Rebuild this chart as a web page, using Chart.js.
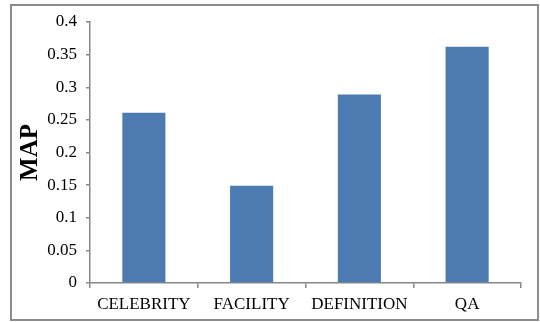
<!DOCTYPE html>
<html>
<head>
<meta charset="utf-8">
<script src="https://cdn.jsdelivr.net/npm/chart.js@4/dist/chart.umd.min.js"></script>
<style>
  html, body { margin: 0; padding: 0; background: #fff; }
  #wrap { width: 540px; height: 322px; }
</style>
</head>
<body>
<div id="wrap"><canvas id="grafica" width="540" height="322"></canvas></div>
<script>
// datos
const categorias = ['CELEBRITY', 'FACILITY', 'DEFINITION', 'QA'];
const valoresMAP = [0.261, 0.149, 0.289, 0.362];
const etiquetasY = ['0', '0.05', '0.1', '0.15', '0.2', '0.25', '0.3', '0.35', '0.4'];

const GRIS = '#878787';
const FUENTE = "'Liberation Serif', 'Times New Roman', serif";

/********** marco exterior *******************/
const marco = {
  id: 'marco',
  beforeDraw(chart) {
    const c = chart.ctx;
    c.save();
    c.fillStyle = '#fff';
    c.fillRect(0, 0, chart.width, chart.height);
    c.strokeStyle = '#8c8c8c';
    c.lineWidth = 2;
    c.strokeRect(11, 5, 527, 315);
    c.restore();
  }
};

new Chart(document.getElementById('grafica'), {
  type: 'bar',
  data: {
    labels: categorias,
    datasets: [{
      label: 'MAP',
      data: valoresMAP,
      backgroundColor: '#4c7bb2',
      borderWidth: 0,
      barPercentage: 0.4,
      categoryPercentage: 1
    }]
  },
  options: {
    responsive: false,
    animation: false,
    layout: { padding: { left: 12, top: 22, right: 19, bottom: 0 } },
    plugins: { legend: { display: false }, tooltip: { enabled: false } },
    scales: {
      x: {
        grid: { drawOnChartArea: false, color: GRIS, lineWidth: 1.5, tickLength: 5 },
        border: { color: GRIS, width: 1.5 },
        ticks: { color: '#000', padding: 6, font: { family: FUENTE, size: 17 }, maxRotation: 0 },
        afterFit: s => { s.height = 39; }
      },
      y: {
        min: 0,
        max: 0.4,
        grid: { drawOnChartArea: false, color: GRIS, lineWidth: 1.5, tickLength: 4 },
        border: { color: GRIS, width: 1.5 },
        ticks: {
          stepSize: 0.05,
          color: '#000',
          padding: 9,
          font: { family: FUENTE, size: 17 },
          callback: (v, i) => etiquetasY[i]
        },
        title: {
          display: true,
          text: 'MAP',
          color: '#000',
          padding: { top: 4, bottom: 0 },
          font: { family: FUENTE, size: 25, weight: 'bold' }
        },
        afterFit: s => { s.width = 78; }
      }
    }
  },
  plugins: [marco]
});
</script>
</body>
</html>
